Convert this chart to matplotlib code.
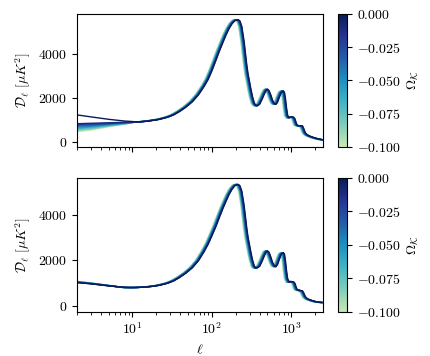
import numpy as np
import matplotlib
matplotlib.use("Agg")
import matplotlib.pyplot as plt
from matplotlib.colors import LinearSegmentedColormap, Normalize
from matplotlib.cm import ScalarMappable
from matplotlib.ticker import FuncFormatter

plt.rcParams['font.family'] = 'serif'
plt.rcParams['font.serif'] = ['cmr10']
plt.rcParams['mathtext.fontset'] = 'cm'
plt.rcParams['axes.formatter.use_mathtext'] = True
plt.rcParams['axes.unicode_minus'] = False
plt.rcParams['font.size'] = 10

# curvature values, one curve each
omega_k = [-0.10, -0.09, -0.08, -0.07, -0.06, -0.05, -0.04, -0.03, -0.02, -0.01, 0.0]
# how far each curve's acoustic peaks sit left of the flat one (ell factor)
peak_shift = [0.910, 0.919, 0.928, 0.937, 0.946, 0.955, 0.964, 0.973, 0.982, 0.991, 1.000]

# flat curve, top panel
ell_top = [12, 15, 18, 22, 28, 33, 39, 47, 57, 68, 80, 90, 100, 113, 125, 138, 151, 165,
           180, 195, 205, 215, 225, 238, 250, 256, 265, 275, 285, 295, 310, 325, 343, 360,
           377, 400, 430, 460, 485, 503, 525, 550, 580, 610, 641, 670, 710, 750, 794, 820,
           845, 870, 900, 940, 1000, 1072, 1110, 1150, 1180, 1230, 1300, 1384, 1430, 1500,
           1560, 1603, 1700, 1850, 2000, 2200, 2500]
dl_top = [910, 940, 980, 1030, 1130, 1230, 1380, 1580, 1833, 2150, 2530, 2850, 3230, 3730,
          4150, 4530, 4870, 5160, 5380, 5510, 5545, 5550, 5500, 5250, 4750, 4485, 4000, 3500,
          3100, 2818, 2400, 2050, 1757, 1660, 1650, 1720, 1950, 2200, 2360, 2394, 2330, 2150,
          1900, 1750, 1712, 1800, 2050, 2250, 2318, 2250, 1950, 1550, 1200, 1100, 1130, 1121,
          1050, 880, 773, 740, 735, 727, 620, 420, 350, 318, 270, 220, 180, 140, 100]

# top panel, lowest multipoles for each curve
ell_low_top = [2, 3, 5, 8]
dl_low_top = [
    [470, 540, 690, 805],
    [510, 575, 710, 815],
    [550, 610, 730, 825],
    [590, 645, 750, 835],
    [630, 680, 770, 845],
    [670, 715, 790, 855],
    [710, 750, 810, 865],
    [750, 785, 830, 875],
    [790, 815, 850, 885],
    [830, 850, 870, 895],
    [1230, 1140, 1030, 950],
]

# flat curve, bottom panel
ell_bot = [8, 10, 12, 15, 18, 22, 28, 33, 39, 47, 57, 68, 80, 90, 100, 113, 125, 138, 151,
           165, 180, 195, 205, 215, 225, 238, 250, 256, 265, 275, 285, 295, 310, 325, 343,
           360, 377, 400, 430, 460, 485, 503, 525, 550, 580, 610, 641, 670, 710, 750, 794,
           820, 845, 870, 900, 940, 1000, 1072, 1110, 1150, 1180, 1230, 1300, 1384, 1430,
           1500, 1560, 1603, 1700, 1850, 2000, 2200, 2500]
dl_bot = [800, 795, 800, 820, 850, 897, 990, 1090, 1235, 1430, 1676, 1990, 2390, 2720, 3080,
          3515, 3920, 4300, 4618, 4920, 5150, 5300, 5345, 5353, 5300, 5060, 4600, 4350, 3900,
          3420, 3030, 2750, 2350, 2010, 1730, 1660, 1676, 1740, 1970, 2220, 2380, 2412, 2350,
          2160, 1910, 1760, 1720, 1810, 2060, 2270, 2338, 2270, 1960, 1540, 1180, 1040, 1060,
          1044, 980, 820, 720, 680, 665, 647, 560, 400, 330, 300, 260, 215, 180, 150, 132]

ell_low_bot = [2, 3, 5]
dl_low_bot = [
    [1070, 1000, 895],
    [1065, 996, 893],
    [1059, 992, 890],
    [1054, 988, 888],
    [1048, 984, 885],
    [1043, 980, 883],
    [1037, 976, 880],
    [1032, 972, 878],
    [1026, 968, 875],
    [1021, 964, 873],
    [1015, 960, 870],
]

base = plt.get_cmap('YlGnBu')
cmap = LinearSegmentedColormap.from_list('ylgnbu_cut', base(np.linspace(0.25, 1.0, 256)))
norm = Normalize(vmin=-0.1, vmax=0.0)

fig = plt.figure(figsize=(4.3, 3.56), dpi=100)
ax1 = fig.add_axes([0.179, 0.587, 0.572, 0.374])
ax2 = fig.add_axes([0.179, 0.124, 0.572, 0.376])
cax1 = fig.add_axes([0.786, 0.587, 0.021, 0.374])
cax2 = fig.add_axes([0.786, 0.124, 0.021, 0.376])

for i, ok in enumerate(omega_k):
    c = cmap(norm(ok))
    x = ell_low_top + [e * peak_shift[i] for e in ell_top]
    y = dl_low_top[i] + dl_top
    ax1.plot(x, y, color=c, lw=1.0)
    x = ell_low_bot + [e * peak_shift[i] for e in ell_bot]
    y = dl_low_bot[i] + dl_bot
    ax2.plot(x, y, color=c, lw=1.0)

fmt_y = FuncFormatter(lambda v, p: r'$%d$' % v)
for ax, ylim in [(ax1, (-230, 5820)), (ax2, (-280, 5640))]:
    ax.set_xscale('log')
    ax.set_xlim(2, 2500)
    ax.set_ylim(*ylim)
    ax.set_yticks([0, 2000, 4000])
    ax.yaxis.set_major_formatter(fmt_y)
    ax.set_ylabel(r'$\mathcal{D}_\ell\ [\mu K^2]$')
ax1.tick_params(axis='x', labelbottom=False)
ax2.set_xlabel(r'$\ell$')

sm = ScalarMappable(norm=norm, cmap=cmap)
fmt_c = FuncFormatter(lambda v, p: r'$%.3f$' % v)
for cax in [cax1, cax2]:
    cb = fig.colorbar(sm, cax=cax, ticks=[0.0, -0.025, -0.05, -0.075, -0.1])
    cb.ax.yaxis.set_major_formatter(fmt_c)
    cb.set_label(r'$\Omega_\mathcal{K}$')

fig.savefig('out.png', dpi=100)
